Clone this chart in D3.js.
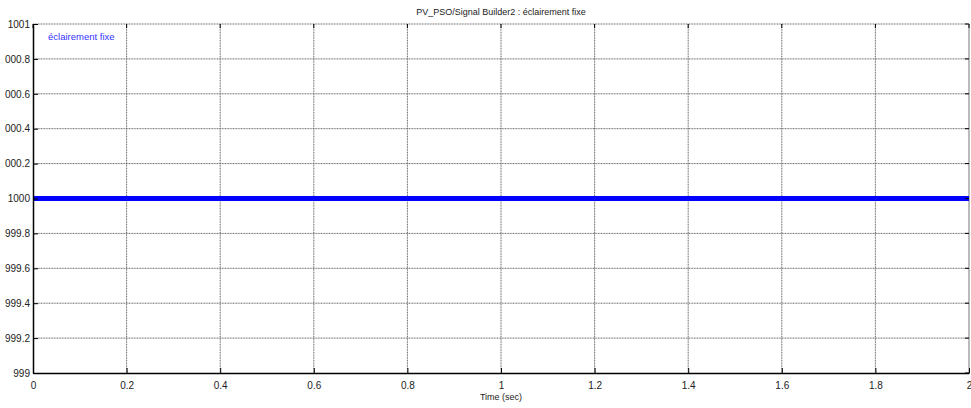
<!DOCTYPE html>
<html><head><meta charset="utf-8">
<script src="https://cdn.jsdelivr.net/npm/d3@7"></script>
<style>body{margin:0;background:#fff;} text{font-family:"Liberation Sans",Arial,sans-serif;}</style>
</head><body>
<svg id="c" width="971" height="408"></svg>
<script>
const title = "PV_PSO/Signal Builder2 : éclairement fixe";
const xLabel = "Time (sec)";
const legendLabel = "éclairement fixe";
const xTicks = [0,0.2,0.4,0.6,0.8,1,1.2,1.4,1.6,1.8,2];
const xTickLabels = ["0","0.2","0.4","0.6","0.8","1","1.2","1.4","1.6","1.8","2"];
const yTicks = [999,999.2,999.4,999.6,999.8,1000,1000.2,1000.4,1000.6,1000.8,1001];
const yTickLabels = ["999","999.2","999.4","999.6","999.8","1000","000.2","000.4","000.6","000.8","1001"];
const timeData = [0, 2];
const valueData = [1000, 1000];

const svg = d3.select("#c");
const L=33, R=969, T=24, B=373;
const x = d3.scaleLinear().domain([0,2]).range([L,R]);
const y = d3.scaleLinear().domain([999,1001]).range([B,T]);

// grid
const g = svg.append("g");
g.selectAll(".vx").data(xTicks.slice(1,-1)).join("line")
 .attr("x1",d=>x(d)).attr("x2",d=>x(d)).attr("y1",T).attr("y2",B)
 .attr("stroke","#666").attr("stroke-width",1).attr("stroke-dasharray","1,0.6");
g.selectAll(".hy").data(yTicks.slice(1,-1)).join("line")
 .attr("y1",d=>y(d)).attr("y2",d=>y(d)).attr("x1",L).attr("x2",R)
 .attr("stroke","#666").attr("stroke-width",1).attr("stroke-dasharray","1,0.6");

// box
svg.append("line").attr("x1",L).attr("x2",R).attr("y1",T).attr("y2",T).attr("stroke","#666").attr("stroke-dasharray","1,0.6");
svg.append("line").attr("x1",R).attr("x2",R).attr("y1",T).attr("y2",B).attr("stroke","#777");

// line
svg.append("path").datum(timeData.map((t,i)=>[t,valueData[i]]))
 .attr("d", d3.line().x(d=>x(d[0])).y(d=>y(d[1])))
 .attr("stroke","#0000ff").attr("stroke-width",5).attr("fill","none");

// axes
const xa = svg.append("g").attr("transform",`translate(0,${B})`)
 .call(d3.axisBottom(x).tickValues(xTicks).tickFormat((d,i)=>xTickLabels[i]).tickSizeInner(-5).tickSizeOuter(0).tickPadding(9));
const ya = svg.append("g").attr("transform",`translate(${L},0)`)
 .call(d3.axisLeft(y).tickValues(yTicks).tickFormat((d,i)=>yTickLabels[i]).tickSizeInner(-5).tickSizeOuter(0).tickPadding(3));
[xa,ya].forEach(a=>{
  a.select(".domain").attr("stroke","#000").attr("stroke-width",1.5);
  a.selectAll(".tick line").attr("stroke","#000");
  a.selectAll("text").attr("font-size",10).attr("fill","#222").attr("font-family","Liberation Sans, Arial, sans-serif");
});
// top ticks & right ticks
svg.selectAll(".tt").data(xTicks).join("line").attr("x1",d=>x(d)).attr("x2",d=>x(d)).attr("y1",T).attr("y2",T+4).attr("stroke","#000");
svg.selectAll(".rt").data(yTicks).join("line").attr("x1",R).attr("x2",R-4).attr("y1",d=>y(d)).attr("y2",d=>y(d)).attr("stroke","#000");

svg.append("text").attr("x",(L+R)/2).attr("y",15).attr("text-anchor","middle").attr("font-size",9).attr("fill","#222").text(title);
svg.append("text").attr("x",(L+R)/2).attr("y",400).attr("text-anchor","middle").attr("font-size",9).attr("fill","#222").text(xLabel);
svg.append("text").attr("x",48).attr("y",40).attr("font-size",9.5).attr("fill","#3333ff").text(legendLabel);
</script>
</body></html>
